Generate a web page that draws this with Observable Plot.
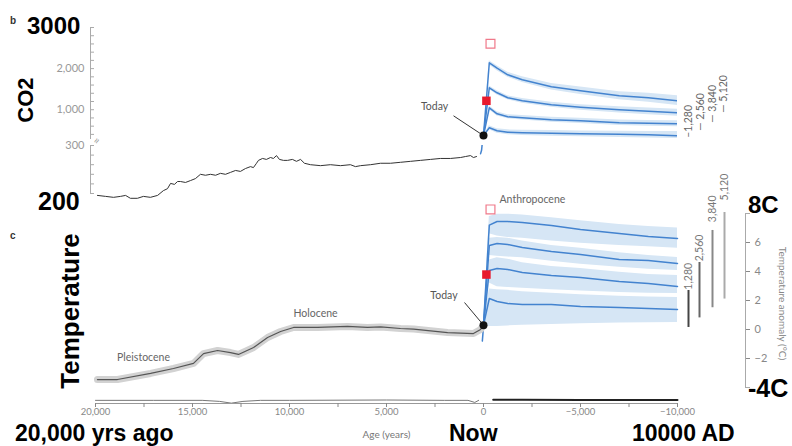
<!DOCTYPE html>
<html><head><meta charset="utf-8">
<script src="https://cdn.jsdelivr.net/npm/d3@7"></script>
<script src="https://cdn.jsdelivr.net/npm/@observablehq/plot@0.6"></script>
<style>
body{margin:0;background:#fff;}
#chart{position:relative;width:792px;height:446px;overflow:hidden;background:#fff;}
#chart svg{position:absolute;left:0;top:0;}
</style></head><body><div id="chart"></div>
<script>
// ---------- data ----------
const co2HistAge = [19900,19480,19070,18710,18450,18200,17840,17530,17170,16800,16500,16290,16130,15930,15770,15620,15360,15100,14850,14590,14330,14070,13810,13560,13300,13040,12780,12530,12270,12010,11860,11700,11600,11390,11190,10980,10830,10670,10520,10310,10100,9850,9640,9430,9230,8920,8400,7890,7370,6860,6600,6340,5820,5310,4790,4280,3760,3250,2730,2220,1700,1180,930,670,520,360];
const co2HistPpm = [196,194,192,194,196,190,190,194,192,196,206,210,221,219,225,225,223,227,231,240,238,240,238,242,240,244,248,246,252,256,254,263,269,273,271,275,273,279,271,269,269,271,267,271,263,260,258,260,258,260,256,258,260,263,263,265,267,269,271,273,273,275,277,279,275,277];
const tempHistAge = [19900,18870,17160,15980,14950,14430,13710,13040,12630,11850,11130,10460,9790,8560,7010,5980,5300,4280,3600,1850,520,150,0];
const tempHistT = [-3.45,-3.45,-3.03,-2.69,-2.34,-1.66,-1.45,-1.59,-1.72,-1.24,-0.55,-0.14,0.14,0.14,0.21,0.14,0.18,0.07,0.03,-0.21,-0.28,0.0,0.3];

const projAge = [0,-300,-700,-1250,-2000,-3500,-5000,-7000,-8500,-10000];
const scenarios = ["1,280","2,560","3,840","5,120"];
const co2Mid = [
  [370,560,487,451,439,427,414,402,390,366],
  [370,1047,901,828,804,755,730,682,670,658],
  [370,1534,1412,1290,1217,1120,1059,998,962,925],
  [370,2142,2010,1850,1728,1558,1460,1339,1290,1217]];
const co2Lo = [
  [370,510,430,390,370,355,340,325,315,300],
  [370,1000,850,780,750,695,665,615,600,585],
  [370,1490,1360,1240,1160,1060,990,920,880,840],
  [370,2090,1950,1790,1660,1480,1370,1240,1180,1100]];
const co2Hi = [
  [370,610,540,510,500,495,485,475,470,470],
  [370,1090,950,880,860,815,795,750,740,730],
  [370,1580,1460,1340,1270,1180,1120,1070,1040,1010],
  [370,2190,2070,1910,1800,1640,1550,1440,1400,1340]];
const tempMid = [
  [0.3,2.14,1.93,1.79,1.72,1.72,1.59,1.52,1.45,1.38],
  [0.3,4.07,4.2,4.14,3.93,3.72,3.59,3.31,3.17,2.97],
  [0.3,5.79,5.93,5.86,5.66,5.38,5.17,4.83,4.76,4.55],
  [0.3,7.2,7.45,7.45,7.38,7.17,6.9,6.62,6.41,6.28]];
const tempLo = [
  [0.3,0.2,0.2,0.25,0.3,0.35,0.4,0.45,0.47,0.48],
  [0.3,3.2,2.95,2.9,2.85,2.75,2.65,2.55,2.5,2.48],
  [0.3,5.1,5.05,5.0,4.95,4.7,4.5,4.3,4.15,4.07],
  [0.3,6.6,6.45,6.35,6.3,6.1,5.95,5.8,5.7,5.6]];
const tempHi = [
  [0.3,2.8,2.75,2.7,2.6,2.5,2.4,2.3,2.25,2.21],
  [0.3,4.8,4.95,4.85,4.6,4.35,4.2,3.95,3.8,3.72],
  [0.3,6.3,6.35,6.3,6.1,5.8,5.6,5.3,5.1,4.97],
  [0.3,7.8,7.95,7.95,7.9,7.7,7.5,7.25,7.1,7.0]];

const co2RiseAge = [150,100,50,0];
const co2RisePpm = [283,290,310,370];
const tempRiseAge = [60,30,0];
const tempRiseT = [-0.8,-0.3,0.3];

const todayAge = 0, todayCo2 = 370, todayT = 0.3;
const markerAge = [-360,-150];
const co2Markers = [2604,1217];
const tempMarkers = [8.28,3.79];

const co2LabelPpm = [317,487,682,925];
const co2LabelText = ["–1,280","— 2,560","— 3,840","— 5,120"];
const tempRangeLo = [0.14,0.8,1.5,2.1];
const tempRangeHi = [2.69,4.62,6.83,8.07];
const tempLabelT = [2.75,4.7,7.4,8.9];

const xTicks = [20000,17500,15000,12500,10000,7500,5000,2500,0,-2500,-5000,-7500,-10000];
const xLabelled = [20000,15000,10000,5000,0,-5000,-10000];
const co2UpperTicks = [400,600,800,1000,1200,1400,1600,1800,2000,2200,2400,2600,2800,3000];
const co2UpperLabels = [1000,2000];
const co2LowerTicks = [200,220,240,260,280,300];
const co2LowerLabels = [300];
const tempTicks = [-4,-2,0,2,4,6,8];
const tempLabels = [-2,0,2,4,6];

const panelDAge = [20000,17000,14500,13600,13000,12400,11500,10000,5000,2000,800,450,250];
const panelDVal = [0.45,0.45,0.45,0.3,0.05,0.3,0.45,0.45,0.5,0.45,0.45,0.15,0.45];
const panelDFutAge = [-500,-2000,-5000,-10000];
const panelDFutVal = [0.55,0.52,0.5,0.5];

// ---------- layout / style ----------
const W = 792, H = 446;
const X = {domain: [20000, -10000], range: [95, 677], axis: null, label: null};
const BLUE = "#4383cf", BAND = "#d6e6f5";
const fmt = d3.format(",");
const labelDx = [11, 23, 35, 46];
const ruleDx = [11, 22, 35, 47];
const ruleColor = ["#444", "#666", "#888", "#aaa"];
const FONT = "Lato, 'Open Sans', sans-serif";

const co2Hist = co2HistAge.map((a, i) => ({age: a, v: co2HistPpm[i]}));
const tempHist = tempHistAge.map((a, i) => ({age: a, v: tempHistT[i]}));
const co2Rise = co2RiseAge.map((a, i) => ({age: a, v: co2RisePpm[i]}));
const tempRise = tempRiseAge.map((a, i) => ({age: a, v: tempRiseT[i]}));
const proj = (mid, lo, hi) => scenarios.flatMap((s, k) => projAge.map((a, i) => ({s, age: a, mid: mid[k][i], lo: lo[k][i], hi: hi[k][i]})));
const co2Proj = proj(co2Mid, co2Lo, co2Hi);
const tempProj = proj(tempMid, tempLo, tempHi);
const panelD = panelDAge.map((a, i) => ({age: a, v: panelDVal[i]}));
const panelDFut = panelDFutAge.map((a, i) => ({age: a, v: panelDFutVal[i]}));
const lastAge = projAge[projAge.length - 1];

function base(o) {
  return Object.assign({
    width: W, height: H, marginLeft: 90, marginRight: 115,
    style: {background: "transparent", fontFamily: FONT, fontSize: "10px", color: "#888", overflow: "visible"}
  }, o);
}

const chart = document.getElementById("chart");

// CO2 upper segment (300-3000)
chart.append(Plot.plot(base({
  marginTop: 27, marginBottom: H - 138,
  x: X, y: {domain: [300, 3000], axis: null, label: null},
  marks: [
    Plot.frame({anchor: "left", stroke: "#aaa"}),
    Plot.axisY({anchor: "left", label: null, ticks: co2UpperLabels, tickSize: 0, tickPadding: 6, tickFormat: fmt, color: "#999", fontSize: 11}),
    Plot.axisY({anchor: "right", label: null, dx: 90 - (W - 115), ticks: co2UpperTicks, tickSize: 3, tickFormat: () => "", color: "#aaa"}),
    Plot.areaY(co2Proj, {x: "age", y1: "lo", y2: "hi", z: "s", fill: BAND, clip: true}),
    Plot.line(co2Proj, {x: "age", y: "mid", z: "s", stroke: BLUE, strokeWidth: 1.5, clip: true}),
    Plot.line(co2Rise, {x: "age", y: "v", stroke: BLUE, strokeWidth: 1.5, clip: true}),
    Plot.link([0], {x1: () => 1545, y1: () => 852, x2: () => todayAge, y2: () => todayCo2, stroke: "#333", strokeWidth: 1}),
    Plot.text(["Today"], {x: () => 2525, y: () => 1071, text: d => d, fill: "#555", fontSize: 10.5}),
    Plot.dot([0], {x: () => todayAge, y: () => todayCo2, r: 4, fill: "#111"}),
    Plot.dot([0], {x: () => markerAge[0], y: () => co2Markers[0], symbol: "square", r: 5, fill: "white", stroke: "#f0798a", strokeWidth: 1.2}),
    Plot.dot([0], {x: () => markerAge[1], y: () => co2Markers[1], symbol: "square", r: 4.8, fill: "#e8192c"}),
    ...scenarios.map((s, k) => Plot.text([s], {x: () => lastAge, y: () => co2LabelPpm[k], dx: labelDx[k], text: () => co2LabelText[k], rotate: -90, textAnchor: "start", fill: "#666", fontSize: 10.5}))
  ]
})));

// CO2 lower segment (200-300)
chart.append(Plot.plot(base({
  marginTop: 145, marginBottom: H - 193,
  x: X, y: {domain: [200, 300], axis: null, label: null},
  marks: [
    Plot.frame({anchor: "left", stroke: "#aaa"}),
    Plot.axisY({anchor: "left", label: null, ticks: co2LowerLabels, tickSize: 0, tickPadding: 6, tickFormat: fmt, color: "#999", fontSize: 11}),
    Plot.axisY({anchor: "right", label: null, dx: 90 - (W - 115), ticks: co2LowerTicks, tickSize: 3, tickFormat: () => "", color: "#aaa"}),
    Plot.text(["≈"], {frameAnchor: "top-left", dy: -4, dx: 1, text: d => d, rotate: -60, fill: "#999", fontSize: 11}),
    Plot.line(co2Hist, {x: "age", y: "v", stroke: "#333", strokeWidth: 1}),
    Plot.line(co2Rise, {x: "age", y: "v", stroke: BLUE, strokeWidth: 1.5, clip: true})
  ]
})));

// Temperature panel
chart.append(Plot.plot(base({
  marginTop: 213, marginBottom: H - 387, marginRight: W - 745,
  x: X, y: {domain: [-4, 8], axis: null, label: null},
  marks: [
    Plot.frame({anchor: "right", stroke: "#aaa"}),
    Plot.axisY({anchor: "right", label: null, ticks: tempLabels, tickSize: 4, tickPadding: 5, color: "#888", fontSize: 11}),
    Plot.axisY({anchor: "right", label: null, ticks: tempTicks.filter(t => !tempLabels.includes(t)), tickSize: 4, tickFormat: () => "", color: "#aaa"}),
    Plot.text(["Temperature anomaly (°C)"], {frameAnchor: "right", dx: 37, dy: 3, text: d => d, rotate: 90, textAnchor: "middle", fill: "#888", fontSize: 10}),
    Plot.areaY(tempProj, {x: "age", y1: "lo", y2: "hi", z: "s", fill: BAND}),
    Plot.line(tempProj, {x: "age", y: "mid", z: "s", stroke: BLUE, strokeWidth: 1.5}),
    Plot.line(tempRise, {x: "age", y: "v", stroke: BLUE, strokeWidth: 1.5}),
    Plot.line(tempHist, {x: "age", y: "v", stroke: "#d2d2d2", strokeWidth: 7, strokeLinejoin: "round"}),
    Plot.line(tempHist, {x: "age", y: "v", stroke: "#555", strokeWidth: 1.2}),
    Plot.link([0], {x1: () => 978, y1: () => 1.86, x2: () => todayAge, y2: () => todayT, stroke: "#333", strokeWidth: 1}),
    Plot.text(["Today"], {x: () => 2040, y: () => 2.34, text: d => d, fill: "#555", fontSize: 10.5}),
    Plot.dot([0], {x: () => todayAge, y: () => todayT, r: 4, fill: "#111"}),
    Plot.dot([0], {x: () => markerAge[0], y: () => tempMarkers[0], symbol: "square", r: 5, fill: "white", stroke: "#f0798a", strokeWidth: 1.2}),
    Plot.dot([0], {x: () => markerAge[1], y: () => tempMarkers[1], symbol: "square", r: 4.8, fill: "#e8192c"}),
    Plot.text(["Pleistocene"], {x: () => 17526, y: () => -1.93, text: d => d, fill: "#666", fontSize: 10.5}),
    Plot.text(["Holocene"], {x: () => 8659, y: () => 1.1, text: d => d, fill: "#666", fontSize: 10.5}),
    Plot.text(["Anthropocene"], {x: () => -826, y: () => 8.97, text: d => d, textAnchor: "start", fill: "#666", fontSize: 10.5}),
    ...scenarios.map((s, k) => Plot.ruleX([s], {x: () => lastAge, y1: () => tempRangeLo[k], y2: () => tempRangeHi[k], dx: ruleDx[k], stroke: ruleColor[k], strokeWidth: 2})),
    ...scenarios.map((s, k) => Plot.text([s], {x: () => lastAge, y: () => tempLabelT[k], dx: ruleDx[k], text: d => d, rotate: -90, textAnchor: "start", fill: "#777", fontSize: 10.5}))
  ]
})));

// x axis (shared)
chart.append(Plot.plot(base({
  marginLeft: 95, marginTop: 396, marginBottom: H - 403,
  x: X, y: {domain: [0, 1], axis: null, label: null},
  marks: [
    Plot.line(panelD, {x: "age", y: "v", stroke: "#777", strokeWidth: 1}),
    Plot.line(panelDFut, {x: "age", y: "v", stroke: "#222", strokeWidth: 2}),
    Plot.frame({anchor: "bottom", stroke: "#999"}),
    Plot.axisX({label: null, ticks: xTicks, tickSize: 4, tickPadding: 1, tickFormat: d => xLabelled.includes(d) ? fmt(d) : "", color: "#888", fontSize: 9.5}),
    Plot.text(["Age (years)"], {frameAnchor: "bottom", dy: 34, text: d => d, fill: "#777", fontSize: 10})
  ]
})));

// handwritten-style annotations and panel letters
const ov = d3.select(chart).append("svg").attr("width", W).attr("height", H);
const notes = [
  {t: "3000", x: 27, y: 34, s: 24},
  {t: "200", x: 38, y: 210, s: 25},
  {t: "8C", x: 748, y: 213, s: 24},
  {t: "-4C", x: 748, y: 397, s: 25},
  {t: "20,000 yrs ago", x: 15, y: 441, s: 23},
  {t: "Now", x: 449, y: 441, s: 23},
  {t: "10000 AD", x: 632, y: 441, s: 23}
];
ov.selectAll("text.n").data(notes).join("text").attr("class", "n")
  .attr("x", d => d.x).attr("y", d => d.y).attr("font-size", d => d.s)
  .attr("font-family", "'Liberation Sans', Arial, sans-serif").attr("font-weight", "bold").attr("fill", "#000")
  .text(d => d.t);
const rot = [{t: "CO2", x: 33, y: 100, s: 22}, {t: "Temperature", x: 79, y: 311, s: 26}];
ov.selectAll("text.r").data(rot).join("text").attr("class", "r")
  .attr("transform", d => `translate(${d.x},${d.y}) rotate(-90)`).attr("text-anchor", "middle")
  .attr("font-size", d => d.s).attr("font-family", "'Liberation Sans', Arial, sans-serif").attr("font-weight", "bold")
  .text(d => d.t);
ov.selectAll("text.l").data([{t: "b", y: 24}, {t: "c", y: 239}]).join("text").attr("class", "l")
  .attr("x", 10).attr("y", d => d.y).attr("font-size", 10).attr("font-weight", "bold")
  .attr("font-family", "'Liberation Sans', Arial, sans-serif").attr("fill", "#333").text(d => d.t);
</script></body></html>
